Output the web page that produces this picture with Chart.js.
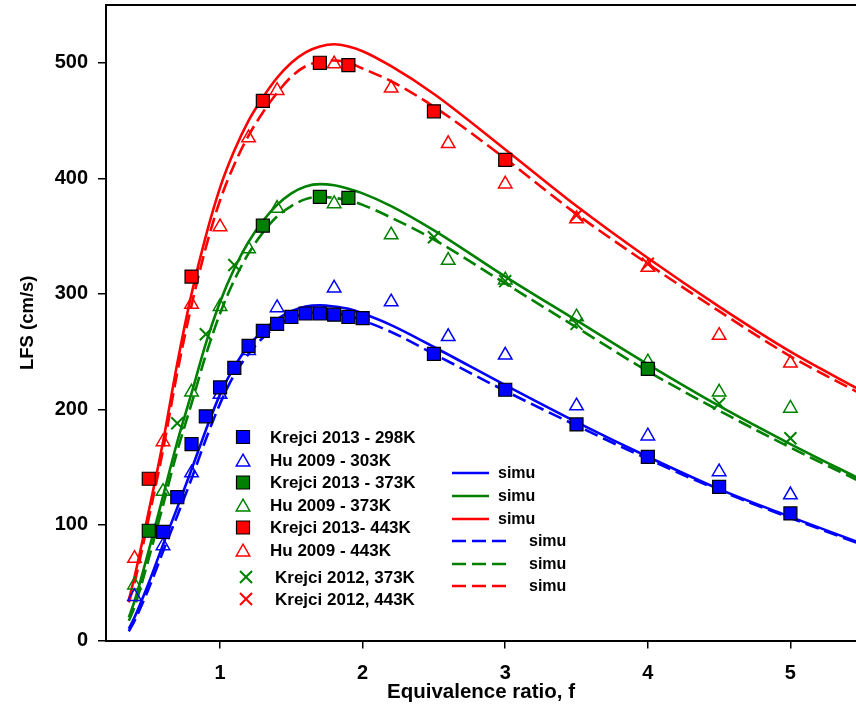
<!DOCTYPE html>
<html>
<head>
<meta charset="utf-8">
<script src="https://cdn.jsdelivr.net/npm/chart.js@4.4.0/dist/chart.umd.min.js"></script>
<style>
  html, body { margin: 0; padding: 0; background: #ffffff; }
  #wrap { width: 856px; height: 711px; }
</style>
</head>
<body>
<div id="wrap"><canvas id="lfs" width="856" height="711"></canvas></div>
<script>
// Laminar flame speed vs. equivalence ratio: measurements and simulations

const xTicks = [1, 2, 3, 4, 5];
const yTicks = [0, 100, 200, 300, 400, 500];

// Krejci 2013 - 298K
const k13_298_phi = [0.6, 0.7, 0.8, 0.9, 1.0, 1.1, 1.2, 1.3, 1.4, 1.5, 1.6, 1.7, 1.8, 1.9, 2.0, 2.5, 3.0, 3.5, 4.0, 4.5, 5.0];
const k13_298_lfs = [94, 124, 170, 194, 219, 236, 255, 268, 274, 280, 283, 283, 282, 280, 279, 248, 217, 187, 159, 133, 110];

// Hu 2009 - 303K
const hu_303_phi = [0.4, 0.6, 0.8, 1.0, 1.2, 1.4, 1.8, 2.2, 2.6, 3.0, 3.5, 4.0, 4.5, 5.0];
const hu_303_lfs = [38, 82, 145, 213, 251, 288, 305, 293, 263, 247, 203, 177, 146, 126];

// Krejci 2013 - 373K
const k13_373_phi = [0.5, 1.3, 1.7, 1.9, 4.0];
const k13_373_lfs = [95, 359, 384, 383, 235];

// Hu 2009 - 373K
const hu_373_phi = [0.4, 0.6, 0.8, 1.0, 1.2, 1.4, 1.8, 2.2, 2.6, 3.0, 3.5, 4.0, 4.5, 5.0];
const hu_373_lfs = [48, 129, 215, 289, 339, 374, 378, 351, 329, 312, 280, 241, 215, 201];

// Krejci 2013 - 443K
const k13_443_phi = [0.5, 0.8, 1.3, 1.7, 1.9, 2.5, 3.0];
const k13_443_lfs = [140, 315, 467, 500, 498, 458, 416];

// Hu 2009 - 443K
const hu_443_phi = [0.4, 0.6, 0.8, 1.0, 1.2, 1.4, 1.8, 2.2, 2.6, 3.0, 3.5, 4.0, 4.5, 5.0];
const hu_443_lfs = [71, 172, 291, 358, 435, 476, 499, 478, 430, 395, 365, 323, 264, 240];

// Krejci 2012, 373K
const k12_373_phi = [0.7, 0.9, 1.1, 2.5, 3.0, 3.5, 4.0, 4.5, 5.0];
const k12_373_lfs = [188, 265, 325, 349, 311, 274, 235, 205, 175];

// Krejci 2012, 443K
const k12_443_phi = [3.5, 4.0];
const k12_443_lfs = [368, 326];

// Simulated flame speeds (shared equivalence-ratio grid)
const sim_phi = [0.36, 0.4, 0.5, 0.6, 0.7, 0.8, 0.9, 1.0, 1.1, 1.2, 1.3, 1.4, 1.5, 1.6, 1.7, 1.8, 1.9, 2.0, 2.2, 2.5, 3.0, 3.5, 4.0, 4.5, 5.0, 5.5];
const sim_a_298 = [10, 20, 50, 83, 115, 148, 182, 213, 237, 255, 268, 278, 285, 289, 290, 289, 287, 283, 273, 254, 221, 189, 159, 131, 107, 84];
const sim_a_373 = [20, 34, 78, 125, 172, 214, 257, 293, 322, 345, 363, 377, 387, 393, 395, 394, 391, 387, 376, 355, 315, 277, 239, 203, 170, 139];
const sim_a_443 = [35, 55, 112, 172, 240, 300, 350, 392, 424, 450, 470, 487, 500, 509, 514, 516, 514, 510, 497, 473, 425, 376, 331, 289, 250, 216];
const sim_b_298 = [8, 17, 45, 77, 108, 140, 174, 205, 230, 248, 262, 272, 279, 283, 284, 283, 281, 277, 267, 248, 216, 186, 157, 130, 106, 83];
const sim_b_373 = [17, 29, 71, 117, 164, 205, 247, 283, 312, 335, 353, 367, 376, 382, 384, 383, 381, 377, 366, 347, 309, 271, 233, 199, 167, 137];
const sim_b_443 = [33, 50, 106, 165, 232, 290, 340, 381, 412, 437, 457, 474, 488, 497, 501, 502, 500, 495, 484, 462, 417, 369, 326, 285, 246, 213];

const BLUE = '#0000ff';
const GREEN = '#008000';
const RED = '#ff0000';
const FONT = '"Liberation Sans", Arial, Helvetica, sans-serif';

function pts(xs, ys) {
  return xs.map((x, i) => ({ x: x, y: ys[i] }));
}

function squares(label, color, xs, ys) {
  return {
    label, data: pts(xs, ys), kind: 'marker',
    pointStyle: 'rect', pointRadius: 9.2, pointHoverRadius: 9.2,
    backgroundColor: color, borderColor: '#000000', pointBorderWidth: 1.2,
    showLine: false
  };
}
function triangles(label, color, xs, ys) {
  return {
    label, data: pts(xs, ys), kind: 'marker',
    pointStyle: 'triangle', pointRadius: 7.8, pointHoverRadius: 7.8,
    backgroundColor: 'rgba(255,255,255,0)', borderColor: color, pointBorderWidth: 1.5,
    showLine: false
  };
}
function crosses(label, color, xs, ys) {
  return {
    label, data: pts(xs, ys), kind: 'marker',
    pointStyle: 'crossRot', pointRadius: 8.5, pointHoverRadius: 8.5,
    backgroundColor: color, borderColor: color, pointBorderWidth: 2,
    showLine: false
  };
}
function simLine(color, ys, dashed) {
  return {
    label: 'simu', data: pts(sim_phi, ys), kind: dashed ? 'dashed' : 'solid',
    showLine: true, pointRadius: 0, pointHoverRadius: 0,
    borderColor: color, backgroundColor: color, borderWidth: 2.6,
    borderDash: dashed ? [14, 6] : [],
    cubicInterpolationMode: 'monotone', fill: false
  };
}

const datasets = [
  squares('Krejci 2013 - 298K', BLUE, k13_298_phi, k13_298_lfs),
  triangles('Hu 2009 - 303K', BLUE, hu_303_phi, hu_303_lfs),
  squares('Krejci 2013 - 373K', GREEN, k13_373_phi, k13_373_lfs),
  triangles('Hu 2009 - 373K', GREEN, hu_373_phi, hu_373_lfs),
  squares('Krejci 2013- 443K', RED, k13_443_phi, k13_443_lfs),
  triangles('Hu 2009 - 443K', RED, hu_443_phi, hu_443_lfs),
  crosses('Krejci 2012, 373K', GREEN, k12_373_phi, k12_373_lfs),
  crosses('Krejci 2012, 443K', RED, k12_443_phi, k12_443_lfs),
  simLine(BLUE, sim_a_298, false),
  simLine(GREEN, sim_a_373, false),
  simLine(RED, sim_a_443, false),
  simLine(BLUE, sim_b_298, true),
  simLine(GREEN, sim_b_373, true),
  simLine(RED, sim_b_443, true)
];

// Frame line along the top of the plot area
const topFrame = {
  id: 'topFrame',
  afterDraw(chart) {
    const { ctx, chartArea } = chart;
    ctx.save();
    ctx.strokeStyle = '#000000';
    ctx.lineWidth = 2;
    ctx.beginPath();
    ctx.moveTo(chartArea.left - 1, chartArea.top);
    ctx.lineTo(chartArea.right, chartArea.top);
    ctx.stroke();
    ctx.restore();
  }
};

// In-plot legend: marker column on the left, "simu" line samples on the right
const plotLegend = {
  id: 'plotLegend',
  afterDatasetsDraw(chart) {
    const ctx = chart.ctx;
    const markerRows = [437, 460, 482.5, 505, 527.5, 550, 577, 599];
    const lineRows = [473, 496, 519, 541, 564, 586];
    let mi = 0, li = 0;
    ctx.save();
    ctx.textBaseline = 'middle';
    ctx.textAlign = 'left';
    chart.data.datasets.forEach(ds => {
      if (ds.kind === 'marker') {
        const y = markerRows[mi++];
        const isCross = ds.pointStyle === 'crossRot';
        const mx = isCross ? 246 : 243;
        ctx.fillStyle = ds.backgroundColor;
        ctx.strokeStyle = ds.borderColor;
        ctx.lineWidth = ds.pointBorderWidth;
        Chart.helpers.drawPoint(ctx, {
          pointStyle: ds.pointStyle, radius: ds.pointRadius, rotation: 0,
          borderWidth: ds.pointBorderWidth
        }, mx, ds.pointStyle === 'triangle' ? y + 2 : y);
        ctx.font = 'bold 17px ' + FONT;
        ctx.fillStyle = '#000000';
        ctx.fillText(ds.label, isCross ? 275 : 270, y + 1);
      } else {
        const y = lineRows[li++];
        const dashed = ds.kind === 'dashed';
        ctx.strokeStyle = ds.borderColor;
        ctx.lineWidth = ds.borderWidth;
        ctx.setLineDash(ds.borderDash);
        ctx.beginPath();
        ctx.moveTo(452, y);
        ctx.lineTo(dashed ? 508 : 489, y);
        ctx.stroke();
        ctx.setLineDash([]);
        ctx.font = 'bold 16px ' + FONT;
        ctx.fillStyle = '#000000';
        ctx.fillText(ds.label, dashed ? 529 : 498, y + 1);
      }
    });
    ctx.restore();
  }
};

function noEdgePadding(s) {
  s.paddingTop = 0; s.paddingBottom = 0; s.paddingLeft = 0; s.paddingRight = 0;
}

new Chart(document.getElementById('lfs'), {
  type: 'scatter',
  data: { datasets },
  options: {
    responsive: false,
    devicePixelRatio: 1,
    animation: false,
    events: [],
    layout: { autoPadding: false, padding: { top: 5, right: 0, left: 0, bottom: 0 } },
    plugins: { legend: { display: false }, tooltip: { enabled: false } },
    scales: {
      x: {
        type: 'linear', min: 0.2, max: 5.46,
        afterBuildTicks: s => { s.ticks = xTicks.map(v => ({ value: v })); },
        afterFit: s => { s.height = 70.5; noEdgePadding(s); },
        grid: { display: true, drawOnChartArea: false, drawTicks: true, tickLength: 8, color: '#000000', lineWidth: 1.5 },
        border: { display: true, color: '#000000', width: 2 },
        ticks: { color: '#000000', padding: 13, font: { family: FONT, size: 20, weight: 'bold' } },
        title: { display: true, text: 'Equivalence ratio, f', color: '#000000',
                 font: { family: FONT, size: 20.5, weight: 'bold' }, padding: { top: 0, bottom: 6.5 } }
      },
      y: {
        type: 'linear', min: 0, max: 550,
        afterBuildTicks: s => { s.ticks = yTicks.map(v => ({ value: v })); },
        afterFit: s => { s.width = 106; noEdgePadding(s); },
        grid: { display: true, drawOnChartArea: false, drawTicks: true, tickLength: 8, color: '#000000', lineWidth: 1.5 },
        border: { display: true, color: '#000000', width: 2 },
        ticks: { color: '#000000', padding: 10, font: { family: FONT, size: 20, weight: 'bold' } },
        title: { display: true, text: 'LFS (cm/s)', color: '#000000',
                 font: { family: FONT, size: 18.5, weight: 'bold' }, padding: { top: 17, bottom: 0 } }
      }
    }
  },
  plugins: [topFrame, plotLegend]
});
</script>
</body>
</html>
